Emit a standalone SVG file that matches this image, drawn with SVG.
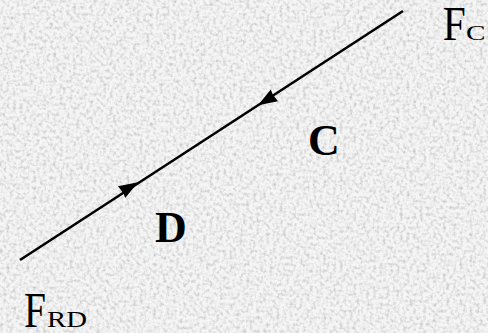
<svg xmlns="http://www.w3.org/2000/svg" width="488" height="333" viewBox="0 0 488 333">
<defs>
<filter id="grain" x="0" y="0" width="100%" height="100%">
<feTurbulence type="fractalNoise" baseFrequency="0.3" numOctaves="2" seed="3" result="n"/>
<feColorMatrix in="n" type="matrix" values="1.3 0 0 0 0.24  1.3 0 0 0 0.24  1.3 0 0 0 0.24  0 0 0 0 0.55"/>
</filter>
<style>
.ln{stroke:#000;stroke-width:2.6;fill:none}
.ah{fill:#000}
.lab{font-family:"Liberation Serif","Times New Roman",serif;fill:#000}
.b{font-weight:bold;font-size:44px}
</style>
</defs>
<rect width="488" height="333" fill="#e8e8e8"/>
<rect width="488" height="333" filter="url(#grain)"/>
<g id="connectors">
<line class="ln" x1="20" y1="260" x2="403" y2="11"/>
<polygon class="ah" points="258,105.2 278,101.2 272.6,94.3 270.8,89.6"/>
<polygon class="ah" points="138,182.3 118.0,186.3 123.4,193.2 125.2,197.9"/>
</g>
<g id="node-FC">
<text class="lab" x="442.7" y="39.5"><tspan font-size="48" textLength="23" lengthAdjust="spacingAndGlyphs">F</tspan><tspan x="466" font-size="21" textLength="19.5" lengthAdjust="spacingAndGlyphs">C</tspan></text>
</g>
<g id="node-C">
<text class="lab b" x="308" y="155">C</text>
</g>
<g id="node-D">
<text class="lab b" x="155" y="242">D</text>
</g>
<g id="node-FRD">
<text class="lab" x="24" y="327"><tspan font-size="50" textLength="22" lengthAdjust="spacingAndGlyphs">F</tspan><tspan x="47" font-size="24" textLength="40" lengthAdjust="spacingAndGlyphs">RD</tspan></text>
</g>
</svg>
